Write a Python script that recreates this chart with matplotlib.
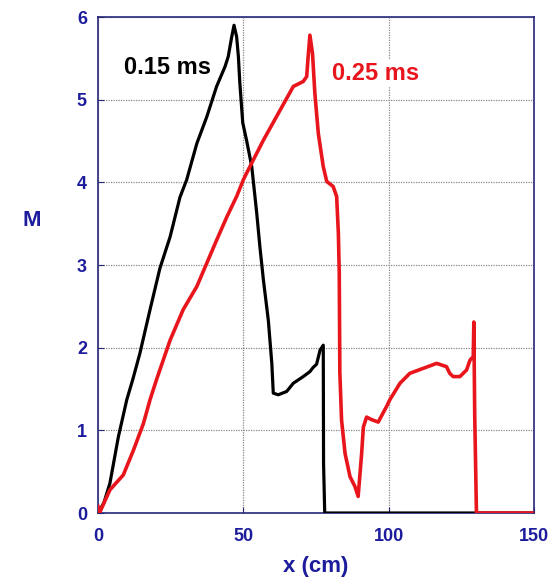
import matplotlib
matplotlib.use("Agg")
import matplotlib.pyplot as plt

plt.rcParams['font.family'] = ['Liberation Sans', 'DejaVu Sans']

# 0.15 ms curve
x_015 = [0, 2.0, 4.1, 7.0, 9.9, 12, 14.4, 17.9, 21.3, 24.8, 28.2, 30.5, 34, 37.4, 40.8, 43.7, 44.8,
         46, 46.8, 47.7, 48.3, 48.8, 49.8, 51.1, 52.9, 54.6, 55.7, 56.9, 58.6, 59.8, 60.3,
         62, 64.9, 67.2, 70.6, 72.9, 74, 75.2, 76.4, 77.5, 77.6, 78, 150]
y_015 = [0, 0.12, 0.36, 0.92, 1.37, 1.62, 1.93, 2.46, 2.96, 3.34, 3.82, 4.03, 4.47, 4.79, 5.16, 5.4, 5.52,
         5.76, 5.9, 5.76, 5.52, 5.2, 4.72, 4.51, 4.19, 3.63, 3.22, 2.82, 2.33, 1.81, 1.45,
         1.43, 1.47, 1.57, 1.65, 1.71, 1.76, 1.8, 1.97, 2.03, 0.6, 0, 0]

# 0.25 ms curve
x_025 = [0, 0.5, 4.1, 8.7, 12.2, 15.6, 17.9, 20.2, 24.8, 29.3, 34, 37.4, 40.8, 44.3, 47.7,
         50, 51.1, 56.9, 62.6, 67.2, 70.6, 71.8, 72.3, 72.9, 73.8, 74.6, 75.8, 77.5, 78.7,
         80.9, 82.1, 82.7, 83, 83.2, 83.8, 85, 86.7, 88.4, 89.5, 90.7, 91.3, 92.4, 94.1,
         96.4, 99.3, 100.4, 103.9, 107.3, 111.9, 116.5, 119.9, 121, 122.2, 124.5, 126.8, 128,
         129.1, 129.3, 129.6, 130.2, 150]
y_025 = [0.08, 0, 0.28, 0.46, 0.76, 1.08, 1.37, 1.62, 2.09, 2.46, 2.74, 3.02, 3.3, 3.58, 3.83,
         4.03, 4.11, 4.51, 4.87, 5.16, 5.22, 5.28, 5.52, 5.78, 5.56, 5.08, 4.59, 4.19, 4.01,
         3.95, 3.83, 3.38, 2.9, 1.7, 1.12, 0.72, 0.44, 0.32, 0.2, 0.72, 1.04, 1.16, 1.13,
         1.1, 1.29, 1.37, 1.57, 1.69, 1.75, 1.81, 1.77, 1.69, 1.65, 1.65, 1.73, 1.85,
         1.89, 2.31, 1.2, 0, 0]

x_ticks = [0, 50, 100, 150]
y_ticks = [0, 1, 2, 3, 4, 5, 6]

navy = '#1c1c9c'
frame = '#27277a'
red = '#e8161c'

fig = plt.figure(figsize=(5.52, 5.87), dpi=100)
ax = fig.add_axes([98/552, 1 - 513/587, (534-98)/552, (513-17)/587])

ax.plot(x_015, y_015, color='black', lw=2.3, solid_joinstyle='round', zorder=3)
ax.plot(x_025, y_025, color=red, lw=2.6, solid_joinstyle='round', zorder=4)

ax.set_xlim(0, 150)
ax.set_ylim(0, 6)
ax.set_xticks(x_ticks)
ax.set_yticks(y_ticks)
ax.grid(True, color='#888888', linestyle=(0, (1, 1)), linewidth=0.9, zorder=1)
for s in ax.spines.values():
    s.set_color(frame)
    s.set_linewidth(1.2)
ax.tick_params(direction='in', length=4, color=frame, labelcolor=navy, labelsize=13)
ax.tick_params(axis='x', pad=11)
ax.tick_params(axis='y', pad=8)
for lab in ax.get_xticklabels() + ax.get_yticklabels():
    lab.set_fontweight('bold')

ax.set_xlabel('x (cm)', fontsize=16, fontweight='bold', color=navy, labelpad=8)
fig.text(32/552, 1 - 220/587, 'M', fontsize=16, fontweight='bold', color=navy,
         ha='center', va='center')

ax.text(24, 5.39, '0.15 ms', fontsize=17, fontweight='bold', color='black',
        ha='center', va='center', zorder=5)
ax.text(95.6, 5.32, '0.25 ms', fontsize=17, fontweight='bold', color=red,
        ha='center', va='center', zorder=5,
        bbox=dict(facecolor='white', edgecolor='none', pad=1))

fig.savefig('out.png', dpi=100)
